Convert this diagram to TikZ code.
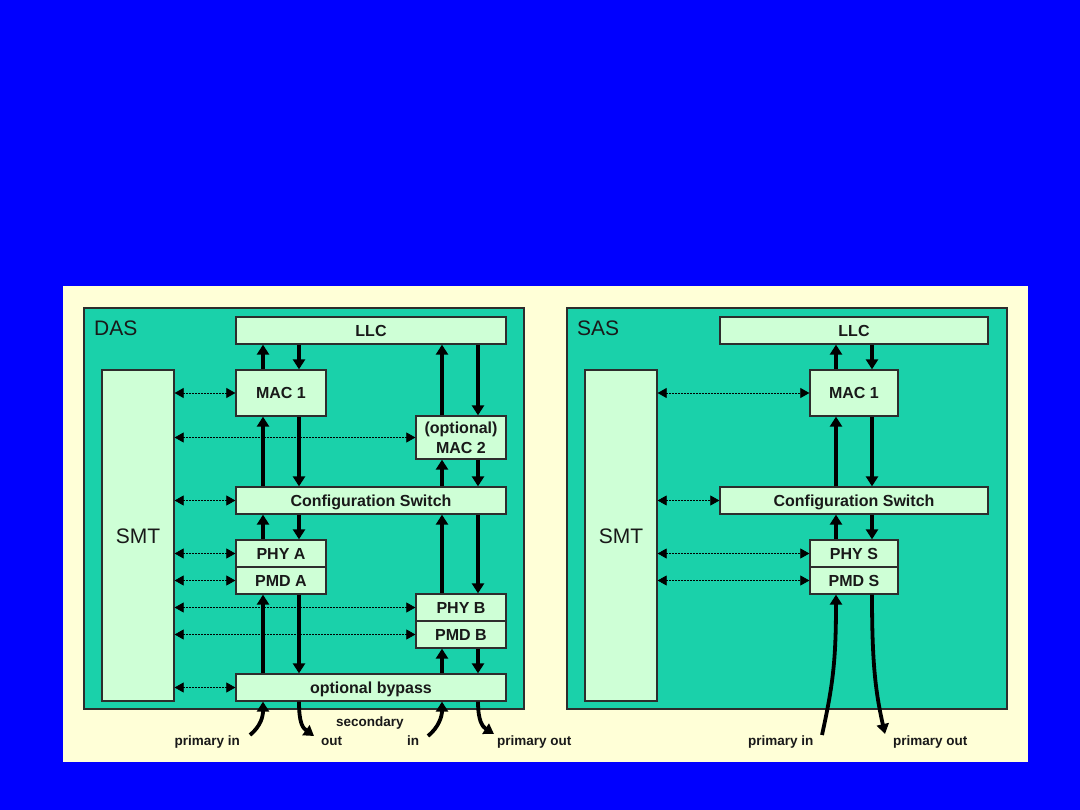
\documentclass[tikz,border=0pt]{standalone}
\usepackage{fontspec}
\setmainfont{Liberation Sans}
\usetikzlibrary{arrows.meta}
\definecolor{slide}{RGB}{0,0,255}
\definecolor{panel}{RGB}{255,255,215}
\definecolor{station}{RGB}{26,209,170}
\definecolor{layer}{RGB}{206,255,214}
\definecolor{edge}{RGB}{45,45,45}
\tikzset{
  layerbox/.style={draw=edge, line width=1.3pt, fill=layer, inner sep=0pt, align=center,
    text=black!90, font=\bfseries\fontsize{16}{20}\selectfont, text height=11.5pt, text depth=0pt},
  stationbox/.style={draw=edge, line width=1.3pt, fill=station},
  flow/.style={line width=3.8pt, -{Triangle[length=10pt,width=12pt]}},
  smtlink/.style={line width=0.7pt, dash pattern=on 1.6pt off 1.4pt,
    {Triangle[length=9pt,width=10pt]}-{Triangle[length=9pt,width=10pt]}},
  caption/.style={font=\bfseries\fontsize{13.5}{15}\selectfont, text=black!90, inner sep=0pt},
  title/.style={font=\fontsize{21}{24}\selectfont, text=black!90, inner sep=0pt}
}
\begin{document}
\begin{tikzpicture}[x=1pt,y=-1pt]
  % slide and paper
  \fill[slide] (0,0) rectangle (1080,810);
  \fill[panel] (63,286) rectangle (1028,762);
  \useasboundingbox (0,0) rectangle (1080,810);

  % dual attachment station
  \draw[stationbox] (84,308) rectangle (524,709);
  \node[title,anchor=west] (dasT) at (94,328) {DAS};
  \node[layerbox,minimum width=72,minimum height=331,font=\fontsize{21}{24}\selectfont,text height=15pt] (smtD) at (138,535.5) {SMT};
  \node[layerbox,minimum width=270,minimum height=27] (llcD) at (371,330.5) {LLC};
  \node[layerbox,minimum width=90,minimum height=46] (mac1D) at (281,393) {MAC 1};
  \node[layerbox,minimum width=90,minimum height=43,text height=31.5pt] (mac2D) at (461,437.5) {(optional)\\MAC 2};
  \node[layerbox,minimum width=270,minimum height=27] (cswD) at (371,500.5) {Configuration Switch};
  \node[layerbox,minimum width=90,minimum height=27] (phyA) at (281,553.5) {PHY A};
  \node[layerbox,minimum width=90,minimum height=27] (pmdA) at (281,580.5) {PMD A};
  \node[layerbox,minimum width=90,minimum height=27] (phyB) at (461,607.5) {PHY B};
  \node[layerbox,minimum width=90,minimum height=27] (pmdB) at (461,634.5) {PMD B};
  \node[layerbox,minimum width=270,minimum height=27] (bypD) at (371,687.5) {optional bypass};

  \coordinate (xDa) at (263,0);
  \coordinate (xDb) at (299,0);
  \coordinate (xDc) at (442,0);
  \coordinate (xDd) at (478,0);
  \foreach \lo/\hi in {mac1D/llcD, cswD/mac1D, phyA/cswD, bypD/pmdA} {
    \draw[flow] (\lo.north -| xDa) -- (\hi.south -| xDa);
    \draw[flow] (\hi.south -| xDb) -- (\lo.north -| xDb);
  }
  \foreach \lo/\hi in {mac2D/llcD, cswD/mac2D, phyB/cswD, bypD/pmdB} {
    \draw[flow] (\lo.north -| xDc) -- (\hi.south -| xDc);
    \draw[flow] (\hi.south -| xDd) -- (\lo.north -| xDd);
  }
  \foreach \b in {mac1D, mac2D, cswD, phyA, pmdA, phyB, pmdB, bypD}
    \draw[smtlink] (smtD.east |- \b.west) -- (\b.west);

  % fibre ends below the DAS
  \node[caption,anchor=base east] (pinDT) at (240,745) {primary in};
  \node[caption,anchor=base west] (soutT) at (321,745) {out};
  \node[caption,anchor=base west] (secT) at (336,726) {secondary};
  \node[caption,anchor=base west] (sinT) at (407,745) {in};
  \node[caption,anchor=base west] (poutDT) at (497,745) {primary out};
  \coordinate (pinD) at (250,735);
  \coordinate (soutD) at (314,736);
  \coordinate (sinD) at (428,736);
  \coordinate (poutD) at (494,734);
  \draw[flow] (pinD) .. controls (261,726) and (263,716) .. (bypD.south -| xDa);
  \draw[flow] (bypD.south -| xDb) .. controls (299,724) and (303,728) .. (soutD);
  \draw[flow] (sinD) .. controls (439,727) and (442,716) .. (bypD.south -| xDc);
  \draw[flow] (bypD.south -| xDd) .. controls (478,722) and (483,727) .. (poutD);

  % single attachment station
  \draw[stationbox] (567,308) rectangle (1007,709);
  \node[title,anchor=west] (sasT) at (577,328) {SAS};
  \node[layerbox,minimum width=72,minimum height=331,font=\fontsize{21}{24}\selectfont,text height=15pt] (smtS) at (621,535.5) {SMT};
  \node[layerbox,minimum width=268,minimum height=27] (llcS) at (854,330.5) {LLC};
  \node[layerbox,minimum width=88,minimum height=46] (macS) at (854,393) {MAC 1};
  \node[layerbox,minimum width=268,minimum height=27] (cswS) at (854,500.5) {Configuration Switch};
  \node[layerbox,minimum width=88,minimum height=27] (phyS) at (854,553.5) {PHY S};
  \node[layerbox,minimum width=88,minimum height=27] (pmdS) at (854,580.5) {PMD S};

  \coordinate (xSa) at (836,0);
  \coordinate (xSb) at (872,0);
  \foreach \lo/\hi in {macS/llcS, cswS/macS, phyS/cswS} {
    \draw[flow] (\lo.north -| xSa) -- (\hi.south -| xSa);
    \draw[flow] (\hi.south -| xSb) -- (\lo.north -| xSb);
  }
  \foreach \b in {macS, cswS, phyS, pmdS}
    \draw[smtlink] (smtS.east |- \b.west) -- (\b.west);

  \node[caption,anchor=base west] (pinST) at (748,745) {primary in};
  \node[caption,anchor=base west] (poutST) at (893,745) {primary out};
  \coordinate (pinS) at (822,735);
  \coordinate (poutS) at (885,734);
  \draw[flow] (pinS) .. controls (833,685) and (836,660) .. (pmdS.south -| xSa);
  \draw[flow] (pmdS.south -| xSb) .. controls (872,660) and (875,690) .. (poutS);
\end{tikzpicture}
\end{document}
